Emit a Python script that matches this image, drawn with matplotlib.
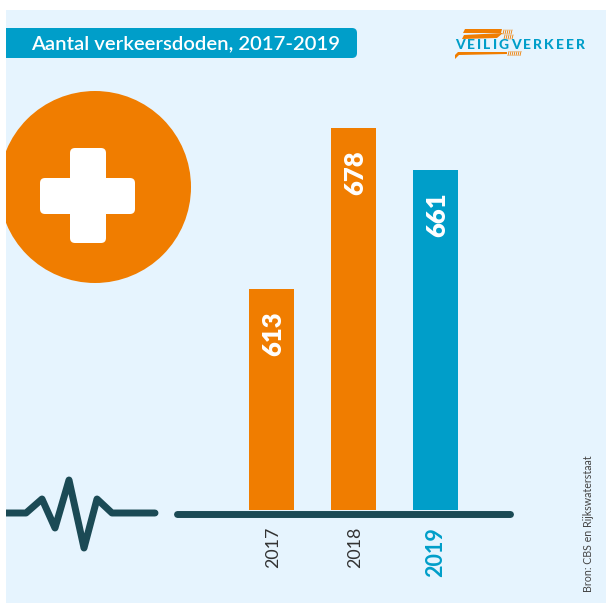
from matplotlib import pyplot as plt
from matplotlib.patches import Circle, FancyBboxPatch, Polygon, Rectangle

years = ['2017', '2018', '2019']
deaths = [613, 678, 661]
bar_colors = ['#f07d00', '#f07d00', '#009ec9']
title = 'Aantal verkeersdoden, 2017-2019'
source = 'Bron: CBS en Rijkswaterstaat'
logo = 'VEILIGVERKEER'

W, H = 606, 605
ORANGE = '#f07d00'
BLUE = '#009ec9'
DARK = '#1b4a55'
BG = '#e6f4fe'

fig = plt.figure(figsize=(W/100, H/100), dpi=100, facecolor='white')
plt.rcParams['font.family'] = ['Lato', 'DejaVu Sans']

#Overlay in pixel coordinates for the decoration
deco = fig.add_axes([0, 0, 1, 1])
deco.set_xlim(0, W)
deco.set_ylim(H, 0)
deco.axis('off')

panel = Rectangle((6, 10), 600, 593, color=BG, lw=0)
deco.add_patch(panel)

#Title bar, square on the left
deco.add_patch(FancyBboxPatch((-10, 28), 367, 30, boxstyle='round,pad=0,rounding_size=5', color=BLUE, lw=0))
deco.add_patch(Rectangle((0, 20), 6, 45, color='white', lw=0))
deco.text(31, 43.5, title, color='white', fontsize=14.6, fontweight='semibold', va='center', ha='left')

#Logo, letters spaced out by hand
deco.add_patch(Polygon([(465, 29), (502, 29), (501, 33), (463, 33)], color=ORANGE, lw=0))
deco.add_patch(Polygon([(464, 35), (503, 33), (497, 38), (462, 39)], color=ORANGE, lw=0))
deco.add_patch(Polygon([(458, 52), (507, 52), (507, 54), (459, 55), (455, 59), (455, 55)], color=ORANGE, lw=0))
for x0, x1, y in [(503, 512, 32), (504, 513, 37), (508, 521, 53.5)]:
    for x in range(x0, x1, 2):
        deco.plot([x, x+1], [y+2, y-2], color=ORANGE, lw=0.6)
renderer = fig.canvas.get_renderer()
pos = 455
for letter in logo:
    t = deco.text(pos, 45, letter, color=BLUE, fontsize=10, fontweight='black', va='center', ha='left')
    pos += t.get_window_extent(renderer).width + 2.1

#Cross in a circle
circle = Circle((95, 187), 96, color=ORANGE, lw=0)
deco.add_patch(circle)
circle.set_clip_path(panel)
deco.add_patch(FancyBboxPatch((40, 178), 95, 36, boxstyle='round,pad=0,rounding_size=5', color='white', lw=0))
deco.add_patch(FancyBboxPatch((70, 148), 36, 95, boxstyle='round,pad=0,rounding_size=5', color='white', lw=0))

#Heartbeat line and baseline
beat = deco.plot([6, 26, 42, 55, 69, 84, 97, 112, 155], [513, 513, 499, 528, 480, 548, 499, 513, 513],
                 color=DARK, lw=5, solid_capstyle='round', solid_joinstyle='round')[0]
beat.set_clip_path(panel)
deco.plot([177, 510], [513.5, 513.5], color=DARK, lw=5, solid_capstyle='round')

deco.text(588, 592, source, color='#444444', fontsize=7.7, rotation=90, va='bottom', ha='center')

#Bars, y axis does not start at zero
ax = fig.add_axes([175/W, 1-510/H, 338/W, 382/H])
ax.patch.set_alpha(0)
ax.bar(range(len(deaths)), deaths, width=0.55, color=bar_colors)
ax.set_xlim(-1.177, 2.94)
ax.set_ylim(524.1, 678)
ax.axis('off')

for i in range(len(deaths)):
    ax.annotate(str(deaths[i]), (i, deaths[i]), xytext=(1, -16), textcoords='offset points', color='white',
                fontsize=18.5, fontweight='heavy', rotation=90, ha='center', va='top')
    last = i == len(deaths)-1
    ax.annotate(years[i], (i, 524.1), xytext=(1 if not last else 0, -12), textcoords='offset points',
                annotation_clip=False, color=BLUE if last else '#333333', fontsize=15.5 if last else 12.8,
                fontweight='bold' if last else 'normal', rotation=90, ha='center', va='top')

plt.savefig('out.png', dpi=100, facecolor='white')
